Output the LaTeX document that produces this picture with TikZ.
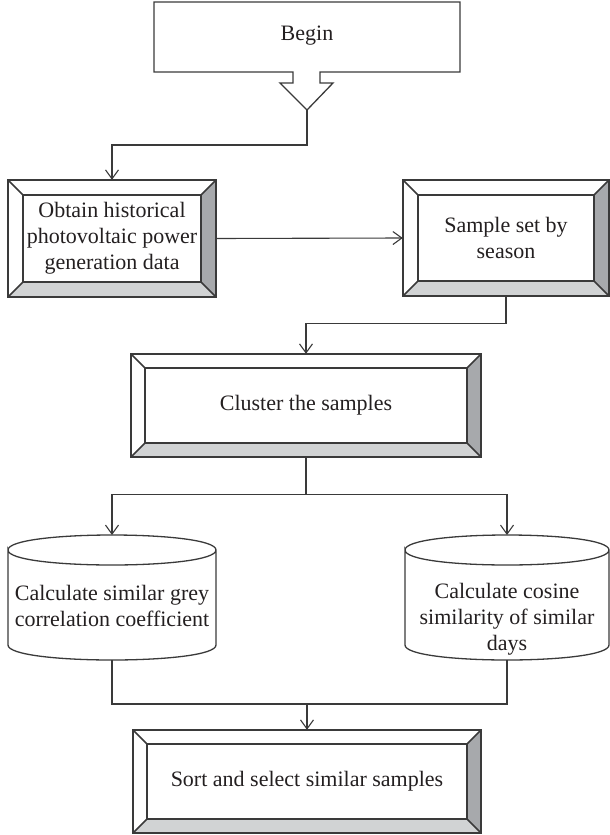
\documentclass[tikz,border=0pt]{standalone}
\usepackage{fontspec}
\setmainfont{Liberation Serif}
\usetikzlibrary{arrows.meta,calc}
\definecolor{ink}{HTML}{3A3A3A}
\definecolor{bevdark}{HTML}{A7A9AC}
\definecolor{bevlight}{HTML}{D1D3D4}
\definecolor{txt}{HTML}{231F20}
\newcommand\bevelize[2]{%
  \fill[bevdark] (#1.north east) -- (#1.south east) -- ([xshift=-#2,yshift=#2]#1.south east) -- ([xshift=-#2,yshift=-#2]#1.north east) -- cycle;
  \fill[bevlight] (#1.south west) -- (#1.south east) -- ([xshift=-#2,yshift=#2]#1.south east) -- ([xshift=#2,yshift=#2]#1.south west) -- cycle;
  \draw[boxline] (#1.north west) rectangle (#1.south east);
  \draw[boxline] ([xshift=#2,yshift=-#2]#1.north west) rectangle ([xshift=-#2,yshift=#2]#1.south east);
  \draw[boxline] (#1.north west) -- ([xshift=#2,yshift=-#2]#1.north west);
  \draw[boxline] (#1.north east) -- ([xshift=-#2,yshift=-#2]#1.north east);
  \draw[boxline] (#1.south east) -- ([xshift=-#2,yshift=#2]#1.south east);
  \draw[boxline] (#1.south west) -- ([xshift=#2,yshift=#2]#1.south west);
}
\begin{document}
\begin{tikzpicture}[x=1pt,y=-1pt,
  boxline/.style={draw=ink,line width=1.5pt},
  conn/.style={draw=ink,line width=1.1pt},
  arr/.style={conn,-{Straight Barb[length=9pt,width=13pt,line width=1.1pt]}},
  lbl/.style={text=txt,font=\fontsize{22}{26}\selectfont,align=center,inner sep=0pt},
  bevbox/.style={lbl,rectangle,draw=none}]
\useasboundingbox (0,0) rectangle (610,835);

% Begin
\draw[boxline,line width=1.3pt] (154,2) -- (460,2) -- (460,72) -- (320,72) -- (320,83) -- (333,83) -- (307,110) -- (280,83) -- (293,83) -- (293,72) -- (154,72) -- cycle;
\node[lbl] (begin) at (307,36) {Begin};
\coordinate (begintip) at (307,110);

% Boxes
\node[bevbox,minimum width=208pt,minimum height=117pt] (obtain) at (112,238.5) {Obtain historical\\photovoltaic power\\generation data};
\bevelize{obtain}{15pt}
\node[bevbox,minimum width=206pt,minimum height=116pt] (sample) at (506,238) {Sample set by\\season};
\bevelize{sample}{15pt}
\node[bevbox,minimum width=350pt,minimum height=103pt] (cluster) at (306,405.5) {Cluster the samples};
\bevelize{cluster}{14pt}
\node[bevbox,minimum width=348pt,minimum height=103pt] (sort) at (307,781.5) {Sort and select similar samples};
\bevelize{sort}{14pt}

% Cylinders
\draw[boxline,line width=1.3pt] (8,550) .. controls (8,530) and (216,530) .. (216,550) .. controls (216,570) and (8,570) .. (8,550) -- (8,645) .. controls (8,665) and (216,665) .. (216,645) -- (216,550);
\node[lbl] (cylA) at (112,606) {Calculate similar grey\\correlation coefficient};
\coordinate (cylAtop) at (112,535);
\coordinate (cylAbot) at (112,660);
\draw[boxline,line width=1.3pt] (405,550) .. controls (405,530) and (609,530) .. (609,550) .. controls (609,570) and (405,570) .. (405,550) -- (405,645) .. controls (405,665) and (609,665) .. (609,645) -- (609,550);
\node[lbl] (cylB) at (507,619) {Calculate cosine\\similarity of similar\\days};
\coordinate (cylBtop) at (507,535);
\coordinate (cylBbot) at (507,660);

% Connectors
\coordinate (j1) at (307,145);
\draw[arr] (begintip) -- (j1) -| (obtain.north);
\draw[arr] (obtain.east) -- (sample.west);
\draw[arr] (sample.south) -- ++(0,27) -| (cluster.north);
\draw[conn] (cluster.south) -- ++(0,37) coordinate (j3);
\draw[arr] (j3) -| (cylAtop);
\draw[arr] (j3) -| (cylBtop);
\coordinate (j4) at (307,704);
\draw[conn] (cylAbot) |- (j4) -| (cylBbot);
\draw[arr] (j4) -- (sort.north);
\end{tikzpicture}
\end{document}
